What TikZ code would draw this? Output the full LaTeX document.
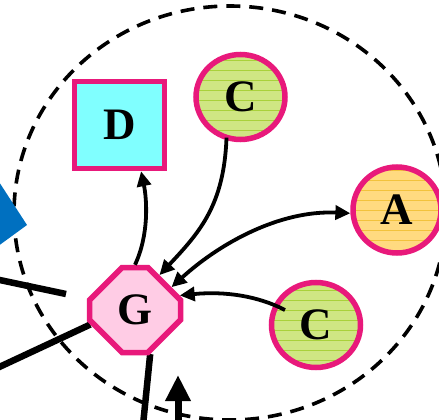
\documentclass[tikz,border=0pt]{standalone}
\usepackage{fontspec}
\setmainfont{Liberation Serif}
\usetikzlibrary{arrows.meta,shapes.misc,shapes.geometric,patterns.meta,calc,backgrounds}
\definecolor{mag}{HTML}{E8197B}
\definecolor{dfill}{HTML}{80FFFF}
\definecolor{cfill}{HTML}{CFE683}
\definecolor{cline}{HTML}{A9D13A}
\definecolor{afill}{HTML}{FFDA80}
\definecolor{aline}{HTML}{F2C23C}
\definecolor{gfill}{HTML}{FFCCE5}
\definecolor{dblue}{HTML}{0070C0}
\begin{document}
\begin{tikzpicture}[x=1pt,y=-1pt,
  lbl/.style={font=\fontsize{45}{45}\selectfont\bfseries, text=black, inner sep=0pt},
  nodebase/.style={lbl, draw=mag, line width=5.5pt},
  sqnode/.style={nodebase, rectangle, fill=dfill, minimum width=90pt, minimum height=87pt},
  cnode/.style={nodebase, ellipse, minimum width=89pt, minimum height=85pt,
    preaction={fill=cfill}, pattern={Lines[angle=0,distance=10pt,line width=0.5pt]}, pattern color=cline},
  anode/.style={nodebase, ellipse, minimum width=88pt, minimum height=86pt,
    preaction={fill=afill}, pattern={Lines[angle=0,distance=10pt,line width=0.5pt]}, pattern color=aline},
  gnode/.style={nodebase, chamfered rectangle, chamfered rectangle xsep=25pt, chamfered rectangle ysep=25pt, fill=gfill, minimum width=91pt, minimum height=85pt},
  conn/.style={line width=3.8pt, -{Triangle[length=15pt,width=14pt]}},
  biconn/.style={line width=3.8pt, {Triangle[length=15pt,width=14pt]}-{Triangle[length=15pt,width=14pt]}},
  thick line/.style={line width=6.5pt},
  region/.style={line width=3.6pt, dash pattern=on 14pt off 9pt}
]
\useasboundingbox (0,0) rectangle (439,420);
% free line ends
\coordinate (l1a) at (-5,279);
\coordinate (l1b) at (66,294);
\coordinate (l2b) at (-5,369);
\coordinate (l3b) at (143,425);
\coordinate (ua) at (178,425);
\coordinate (ub) at (178,375);
% nodes
\node[gnode] (G) at (135,310) {G};
\node[sqnode] (D) at (119.5,125) {D};
\node[cnode] (C1) at (240.5,97) {C};
\node[anode] (A) at (397,210) {A};
\node[cnode] (C2) at (316,325) {C};
\begin{scope}[on background layer]
  \node[region, draw, ellipse, minimum width=432pt, minimum height=414pt, inner sep=0pt] (R) at (230,213) {};
  \fill[dblue] (-10,168) -- (27,225) -- (-10,252) -- cycle;
  \draw[thick line] (l1a) -- (l1b);
  \draw[thick line] (G.198) -- (l2b);
  \draw[thick line] (G.-71) -- (l3b);
\end{scope}
% connectors
\draw[conn] (G.north) .. controls (149,235) and (147,200) .. (D.-65);
\draw[conn] (C1.-109) .. controls (224,205) and (200,232) .. (G.55);
\draw[biconn] (G.32) .. controls (220,243) and (280,210) .. (A.184);
\draw[conn] ($(C2.center)+(-31,-15)$) .. controls (258,296) and (225,291) .. (G.18);
\draw[line width=7pt, -{Triangle[length=26pt,width=24pt]}] (ua) -- (ub);
\end{tikzpicture}
\end{document}
